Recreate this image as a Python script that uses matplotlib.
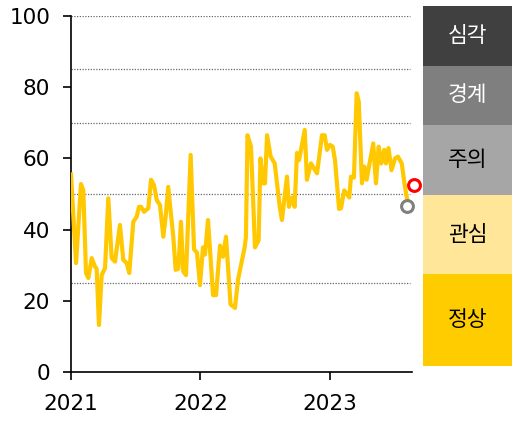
import matplotlib
matplotlib.use("Agg")
import matplotlib.pyplot as plt

plt.rcParams['font.family'] = ['DejaVu Sans', 'Noto Sans CJK KR']

# weekly index, x in decimal years
t = [2021.000, 2021.039, 2021.077, 2021.095, 2021.116, 2021.134, 2021.160, 2021.185,
     2021.198, 2021.216, 2021.237, 2021.263, 2021.288, 2021.314, 2021.340, 2021.378,
     2021.404, 2021.430, 2021.450, 2021.481, 2021.507, 2021.525, 2021.541, 2021.564,
     2021.597, 2021.618, 2021.641, 2021.662, 2021.687, 2021.713, 2021.731, 2021.751,
     2021.770, 2021.790, 2021.808, 2021.829, 2021.849, 2021.867, 2021.888, 2021.924,
     2021.950, 2021.973, 2021.996, 2022.019, 2022.035, 2022.058, 2022.097, 2022.120,
     2022.151, 2022.174, 2022.197, 2022.232, 2022.266, 2022.290, 2022.341, 2022.351,
     2022.363, 2022.390, 2022.421, 2022.449, 2022.463, 2022.483, 2022.498, 2022.514,
     2022.542, 2022.573, 2022.612, 2022.629, 2022.668, 2022.683, 2022.707, 2022.727,
     2022.745, 2022.761, 2022.805, 2022.822, 2022.853, 2022.900, 2022.938, 2022.959,
     2022.977, 2023.000, 2023.021, 2023.039, 2023.070, 2023.085, 2023.110, 2023.137,
     2023.149, 2023.162, 2023.185, 2023.206, 2023.222, 2023.247, 2023.265, 2023.283,
     2023.301, 2023.334, 2023.355, 2023.376, 2023.396, 2023.419, 2023.432, 2023.452,
     2023.475, 2023.502, 2023.525, 2023.554, 2023.579, 2023.598]
v = [55.5, 30.6, 52.8, 51.0, 27.8, 26.4, 32.0, 29.6,
     29.0, 13.2, 27.2, 29.2, 48.8, 32.0, 31.0, 41.3,
     31.5, 30.6, 27.8, 42.2, 43.6, 46.4, 46.4, 45.0,
     46.0, 54.0, 52.5, 48.3, 46.9, 38.0, 43.6, 52.0,
     45.0, 38.0, 28.7, 29.0, 42.2, 28.2, 27.2, 61.0,
     34.5, 33.5, 24.4, 35.0, 33.0, 42.7, 21.6, 21.6,
     35.5, 32.4, 38.0, 19.0, 18.0, 26.0, 35.0, 38.0,
     66.5, 63.3, 35.0, 37.0, 60.0, 53.0, 53.0, 66.5,
     60.5, 58.6, 46.4, 42.7, 54.9, 46.4, 49.0, 46.4,
     61.5, 59.5, 68.0, 54.0, 58.6, 55.8, 66.5, 66.5,
     62.4, 63.8, 63.3, 59.5, 45.8, 46.0, 51.0, 49.7,
     49.0, 54.9, 54.6, 78.3, 76.0, 53.0, 57.7, 54.0,
     57.7, 64.2, 53.0, 63.3, 58.6, 62.4, 58.6, 62.9,
     56.7, 60.0, 60.5, 58.6, 52.0, 48.0]

prev_pt = (2023.598, 46.6)
last_pt = (2023.645, 52.5)

grid_levels = [25, 50, 70, 85, 100]
years = [2021, 2022, 2023]

levels = ["정상", "관심", "주의", "경계", "심각"]
edges = [1.7, 27.5, 49.7, 69.4, 86.0, 102.8]
band_colors = ["#FFCC00", "#FFE699", "#A6A6A6", "#7F7F7F", "#404040"]
text_colors = ["black", "black", "black", "white", "white"]

fig = plt.figure(figsize=(5.24, 4.22), dpi=100)
ax = fig.add_axes([71/524, 50/422, 340.7/524, 356/422])

for g in grid_levels:
    ax.hlines(g, 2021, 2023.618, colors="#666666", linestyles=(0, (1, 1.2)), linewidth=0.9, zorder=1)

ax.plot(t, v, color="#FFC800", linewidth=3.0, solid_joinstyle="round", zorder=3)
ax.plot(*prev_pt, marker="o", ms=8.5, mfc="white", mec="#7F7F7F", mew=2.2, clip_on=False, zorder=4)
ax.plot(*last_pt, marker="o", ms=8.5, mfc="white", mec="#FF0000", mew=2.2, clip_on=False, zorder=4)

ax.set_xlim(2021, 2023.631)
ax.set_ylim(0, 100)
ax.set_yticks([0, 20, 40, 60, 80, 100])
ax.set_xticks(years)
ax.set_xticklabels([str(y) for y in years])
for s in ["top", "right"]:
    ax.spines[s].set_visible(False)
for s in ["left", "bottom"]:
    ax.spines[s].set_linewidth(1.2)
ax.tick_params(axis="both", direction="out", length=6, width=1.2, labelsize=15.5)
ax.tick_params(axis="x", pad=10)
ax.tick_params(axis="y", pad=9)

# risk level panel
pax = fig.add_axes([423/524, 50/422, 89/524, 356/422])
pax.set_xlim(0, 1)
pax.set_ylim(0, 100)
pax.axis("off")
for i, name in enumerate(levels):
    lo, hi = edges[i], edges[i + 1]
    pax.bar(0.5, hi - lo, bottom=lo, width=1.0, color=band_colors[i], clip_on=False)
    pax.text(0.5, (lo + hi) / 2, name, ha="center", va="center", fontsize=15.5,
             family="Noto Sans CJK KR", color=text_colors[i], clip_on=False)

fig.savefig("out.png", dpi=100)
